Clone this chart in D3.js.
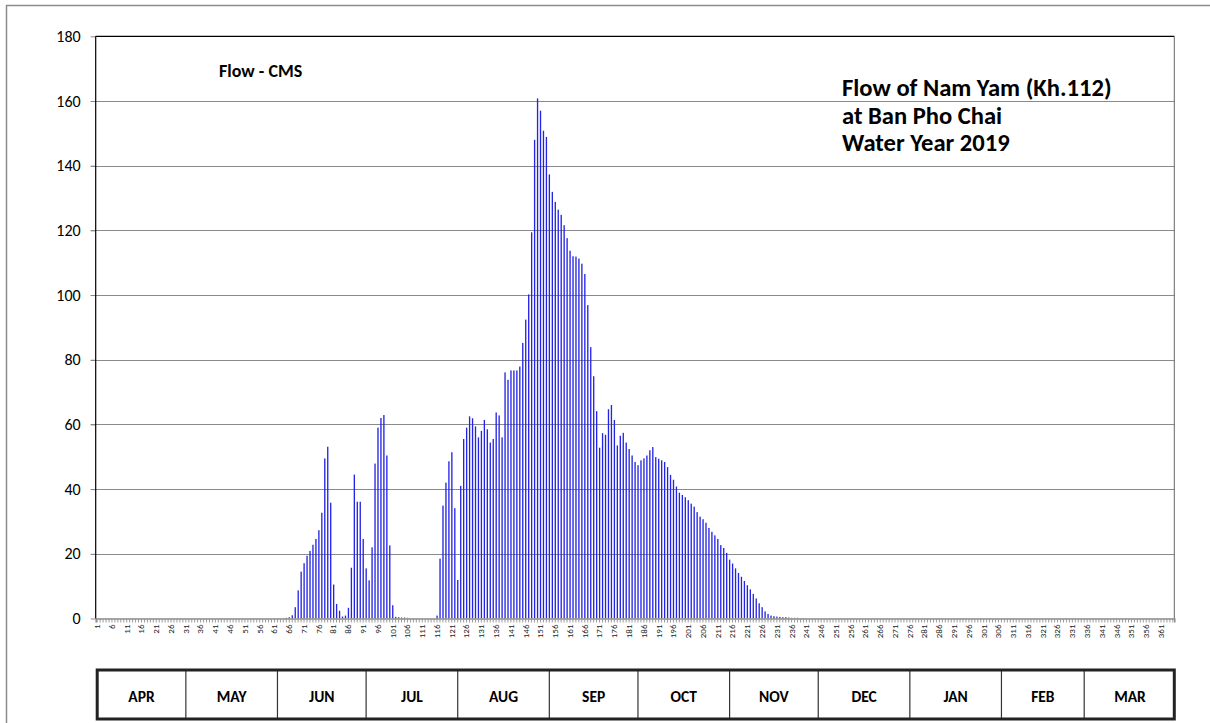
<!DOCTYPE html>
<html>
<head>
<meta charset="utf-8">
<script src="https://cdn.jsdelivr.net/npm/d3@7"></script>
<style>
  body { margin: 0; background: #fff; }
  text { font-family: Carlito, Lato, sans-serif; }
</style>
</head>
<body>
<script>
// Daily flow (CMS), day 1 = 1 April 2019 ... day 365 = 31 March 2020
var flow = [
  0, 0, 0, 0, 0, 0, 0, 0, 0, 0,
  0, 0, 0, 0, 0, 0, 0, 0, 0, 0,
  0, 0, 0, 0, 0, 0, 0, 0, 0, 0,
  0, 0, 0, 0, 0, 0, 0, 0, 0, 0,
  0, 0, 0, 0, 0, 0, 0, 0, 0, 0,
  0, 0, 0, 0, 0, 0, 0, 0, 0, 0,
  0, 0, 0, 0, 0.2, 0.4, 1.0, 3.5, 8.7, 14.5,
  17.1, 19.4, 20.9, 22.8, 24.6, 27.3, 32.7, 49.5, 53.1, 35.8,
  10.5, 4.5, 2.4, 0.6, 0.9, 3.3, 15.7, 44.5, 36.1, 36.1,
  24.6, 15.5, 11.8, 22.0, 47.9, 59.0, 62.0, 62.9, 50.4, 22.6,
  4.1, 0.5, 0.4, 0.3, 0.3, 0.2, 0, 0, 0, 0,
  0, 0, 0, 0, 0, 0.9, 18.5, 34.9, 42.0, 48.6,
  51.4, 34.1, 11.9, 41.0, 55.5, 59.0, 62.5, 61.9, 59.4, 56.0,
  58.0, 61.4, 58.5, 54.4, 55.5, 63.7, 62.8, 56.0, 76.1, 73.8,
  76.7, 76.7, 76.7, 77.9, 85.2, 92.4, 100.2, 119.4, 148.0, 160.8,
  157.0, 150.8, 148.9, 137.3, 131.9, 128.8, 126.4, 124.8, 121.6, 117.6,
  113.7, 112.0, 111.9, 111.3, 109.7, 106.5, 96.9, 83.9, 74.9, 64.1,
  52.8, 57.3, 56.8, 64.7, 66.0, 61.4, 53.5, 56.5, 57.4, 54.4,
  52.4, 50.4, 48.4, 47.4, 48.9, 49.5, 50.4, 52.0, 53.0, 49.9,
  49.4, 48.9, 48.4, 46.8, 44.4, 42.9, 40.8, 38.9, 38.2, 37.5,
  36.6, 35.5, 34.6, 32.9, 31.5, 30.7, 29.6, 28.0, 26.8, 25.7,
  24.6, 22.7, 21.8, 20.3, 18.2, 17.0, 15.5, 14.1, 12.9, 11.6,
  10.3, 9.0, 7.6, 6.2, 4.7, 3.5, 2.2, 1.4, 0.9, 0.7,
  0.6, 0.5, 0.4, 0.4, 0.3, 0.2, 0.2, 0.2, 0.1, 0.1,
  0, 0, 0, 0, 0, 0, 0, 0, 0, 0,
  0, 0, 0, 0, 0, 0, 0, 0, 0, 0,
  0, 0, 0, 0, 0, 0, 0, 0, 0, 0,
  0, 0, 0, 0, 0, 0, 0, 0, 0, 0,
  0, 0, 0, 0, 0, 0, 0, 0, 0, 0,
  0, 0, 0, 0, 0, 0, 0, 0, 0, 0,
  0, 0, 0, 0, 0, 0, 0, 0, 0, 0,
  0, 0, 0, 0, 0, 0, 0, 0, 0, 0,
  0, 0, 0, 0, 0, 0, 0, 0, 0, 0,
  0, 0, 0, 0, 0, 0, 0, 0, 0, 0,
  0, 0, 0, 0, 0, 0, 0, 0, 0, 0,
  0, 0, 0, 0, 0, 0, 0, 0, 0, 0,
  0, 0, 0, 0, 0
];

// Day numbers (categories)
var days = d3.range(1, flow.length + 1);

// Y axis tick values
var yTicks = [0, 20, 40, 60, 80, 100, 120, 140, 160, 180];

// Month strip under the chart
var months = ["APR", "MAY", "JUN", "JUL", "AUG", "SEP", "OCT", "NOV", "DEC", "JAN", "FEB", "MAR"];
var monthDays = [30, 31, 30, 31, 31, 30, 31, 30, 31, 31, 28, 31];

var titleLines = ["Flow of Nam Yam (Kh.112)", "at Ban Pho Chai", "Water Year 2019"];

var w = 1210, h = 723;
// plot edges (names avoid window.top etc.)
var pLeft = 95.7, pRight = 1174.3, pTop = 36.3, pBottom = 618.5;

var svg = d3.select("body").append("svg")
    .attr("width", w)
    .attr("height", h);

// outer chart frame (only top and left show in the window)
svg.append("rect")
    .attr("x", 6.5).attr("y", 5.5)
    .attr("width", 1300).attr("height", 800)
    .style("fill", "none")
    .style("stroke", "#8c8c8c")
    .style("stroke-width", 1.5);

var x = d3.scaleBand()
    .domain(days)
    .range([pLeft, pRight]);

var y = d3.scaleLinear()
    .domain([0, 180])
    .range([pBottom, pTop]);

// gridlines
svg.append("g")
    .selectAll("line")
    .data(yTicks.filter(function(d){ return d > 0 && d < 180; }))
    .enter()
    .append("line")
    .attr("x1", pLeft - 5).attr("x2", pRight)
    .attr("y1", function(d){ return Math.round(y(d)) + 0.5; })
    .attr("y2", function(d){ return Math.round(y(d)) + 0.5; })
    .style("stroke", "#8a8a8a")
    .style("stroke-width", 1);

// bars
svg.append("g")
    .selectAll("rect")
    .data(days)
    .enter()
    .append("rect")
    .attr("x", function(d){ return x(d) + x.bandwidth() * 0.3; })
    .attr("width", x.bandwidth() * 0.45)
    .attr("y", function(d){ return y(flow[d - 1]); })
    .attr("height", function(d){ return pBottom - y(flow[d - 1]); })
    .style("fill", "#2424e4");

// x axis: a tick for every day, a label every 5 days
var xAxis = d3.axisBottom(x)
    .tickValues(days)
    .tickSize(4)
    .tickFormat(function(d){ return (d - 1) % 5 === 0 ? d : ""; });

var gx = svg.append("g")
    .attr("transform", "translate(0," + pBottom + ")")
    .call(xAxis);
gx.select(".domain").style("stroke", "#8a8a8a").style("stroke-width", 1.5);
gx.selectAll(".tick line").style("stroke", "#9a9a9a");
gx.selectAll(".tick text")
    .attr("transform", "rotate(-90)")
    .attr("text-anchor", "end")
    .attr("x", -6)
    .attr("y", 0)
    .attr("dy", "0.32em")
    .style("font-size", "9px")
    .style("fill", "#222");

// y axis
var gy = svg.append("g")
    .attr("transform", "translate(" + pLeft + ",0)")
    .call(d3.axisLeft(y).tickValues(yTicks).tickSize(5).tickPadding(10));
gy.select(".domain").remove();
gy.selectAll(".tick line").style("stroke", "#8a8a8a");
gy.selectAll(".tick text")
    .style("font-size", "16px")
    .style("fill", "#000");

// plot frame
svg.append("line")
    .attr("x1", pLeft).attr("x2", pLeft)
    .attr("y1", pTop).attr("y2", pBottom)
    .style("stroke", "#000").style("stroke-width", 1.2);
svg.append("line")
    .attr("x1", pLeft).attr("x2", pRight)
    .attr("y1", pTop).attr("y2", pTop)
    .style("stroke", "#000").style("stroke-width", 1.2);
svg.append("line")
    .attr("x1", pRight).attr("x2", pRight)
    .attr("y1", pTop).attr("y2", pBottom)
    .style("stroke", "#666").style("stroke-width", 1);

// titles
svg.append("text")
    .attr("x", 219).attr("y", 77)
    .style("font-size", "18px")
    .style("font-weight", "bold")
    .text("Flow - CMS");

svg.append("g")
    .selectAll("text")
    .data(titleLines)
    .enter()
    .append("text")
    .attr("x", 842)
    .attr("y", function(d, i){ return 96 + i * 27.5; })
    .style("font-size", "24.6px")
    .style("font-weight", "bold")
    .text(function(d){ return d; });

// month strip
var starts = [];
var acc = 0;
monthDays.forEach(function(n){ starts.push(acc + 1); acc += n; });

var tableTop = 670, tableBottom = 719;
var strip = svg.append("g");

strip.selectAll(".mline")
    .data(starts.slice(1))
    .enter()
    .append("line")
    .attr("class", "mline")
    .attr("x1", function(d){ return x(d) + 1.5; })
    .attr("x2", function(d){ return x(d) + 1.5; })
    .attr("y1", tableTop).attr("y2", tableBottom)
    .style("stroke", "#333").style("stroke-width", 1.2);

strip.selectAll(".mlabel")
    .data(months)
    .enter()
    .append("text")
    .attr("class", "mlabel")
    .attr("x", function(d, i){
        var a = x(starts[i]) + 1.5;
        var b = x(starts[i] + monthDays[i] - 1) + x.bandwidth() + 1.5;
        return (a + b) / 2;
    })
    .attr("y", 702)
    .attr("text-anchor", "middle")
    .style("font-size", "15.5px")
    .style("font-weight", "bold")
    .text(function(d){ return d; });

strip.append("rect")
    .attr("x", x(1) + 1.5).attr("y", tableTop)
    .attr("width", pRight - pLeft - 1.5)
    .attr("height", tableBottom - tableTop)
    .style("fill", "none")
    .style("stroke", "#222")
    .style("stroke-width", 3);
</script>
</body>
</html>
